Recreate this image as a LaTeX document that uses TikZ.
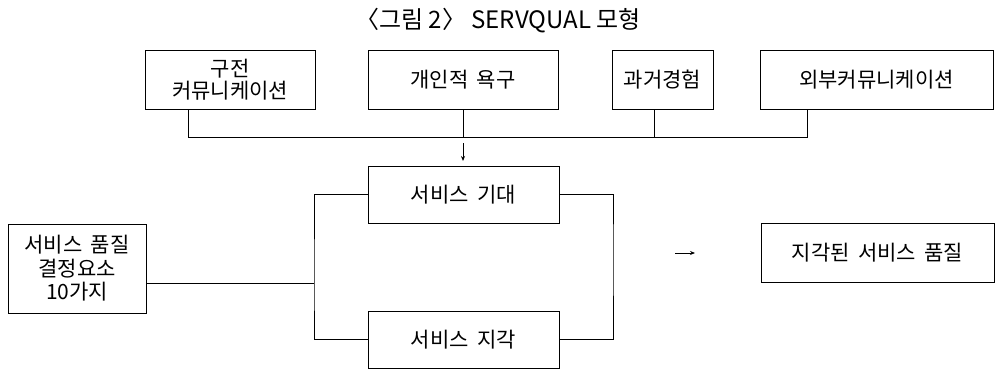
\documentclass[tikz,border=0pt]{standalone}
\usepackage{fontspec}
\setmainfont{Noto Sans CJK KR}
\newfontfamily\boxfont[WordSpace=1.8]{Noto Sans CJK KR}
\usetikzlibrary{arrows.meta}
\tikzset{
  box/.style={draw, line width=1pt, align=center, inner sep=0pt, font=\boxfont\fontsize{21}{22}\selectfont},
  conn/.style={line width=0.9pt},
  arr/.style={line width=0.9pt, -{Stealth[length=5pt,width=4pt]}}
}
\begin{document}
\begin{tikzpicture}[x=1pt,y=-1pt]
\useasboundingbox (0,0) rectangle (996,369);
\node[font=\fontsize{24}{26}\selectfont] (title) at (498,21) {〈그림 2〉 SERVQUAL 모형};
\node[box, minimum width=170pt, minimum height=58pt] (A) at (230,80) {구전\\커뮤니케이션};
\node[box, minimum width=190pt, minimum height=58pt] (B) at (463,80) {개인적 욕구};
\node[box, minimum width=101pt, minimum height=58pt] (C) at (662.5,80) {과거경험};
\node[box, minimum width=233pt, minimum height=58pt] (D) at (876.5,80) {외부커뮤니케이션};
\node[box, minimum width=191pt, minimum height=57pt] (E) at (463.5,194.5) {서비스 기대};
\node[box, minimum width=191pt, minimum height=57pt] (F) at (463.5,339.5) {서비스 지각};
\node[box, minimum width=138pt, minimum height=89pt, font=\boxfont\fontsize{21}{23.5}\selectfont] (G) at (77,268.5) {서비스 품질\\결정요소\\10가지};
\node[box, minimum width=233pt, minimum height=59pt] (H) at (877.5,252.5) {지각된 서비스 품질};
% bus
\coordinate (busL) at (188,137);
\coordinate (busR) at (807,137);
\coordinate (cx) at (654,137);
\draw[conn] (A.south -| busL) -- (busL) -- (busR) -- (busR |- D.south);
\draw[conn] (B.south) -- (B.south |- busL);
\draw[conn] (C.south -| cx) -- (cx);
\coordinate (arrS) at (463,143);
\coordinate (arrE) at (463,161);
\draw[arr] (arrS) -- (arrE);
% left bracket
\coordinate (jL) at (314,283);
\draw[conn] (G.east |- jL) -- (jL);
\draw[conn] (E.west) -| (jL) |- (F.west);
% right bracket
\coordinate (jR) at (613,253);
\draw[conn] (E.east) -| (jR) |- (F.east);
\coordinate (a2s) at (675,253);
\coordinate (a2e) at (695,253);
\draw[arr] (a2s) -- (a2e);
\end{tikzpicture}
\end{document}
